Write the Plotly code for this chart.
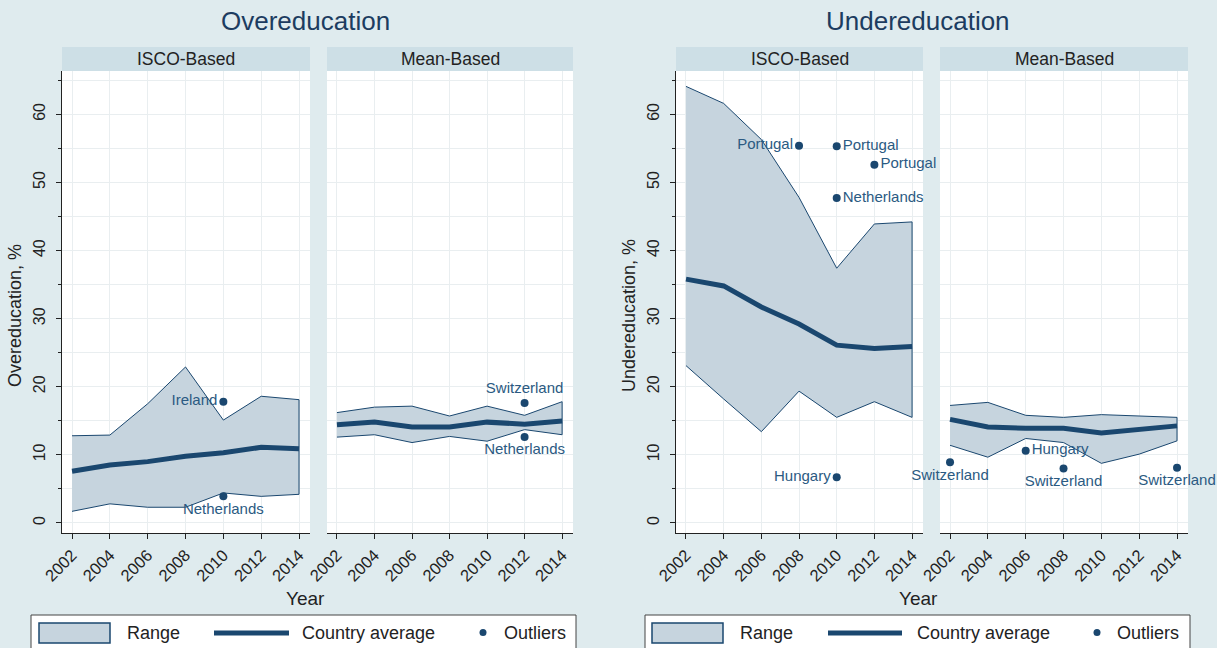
import plotly.graph_objects as go

# ---------------- data ----------------
years = [2002, 2004, 2006, 2008, 2010, 2012, 2014]

# Overeducation, ISCO-based
over_isco_upper = [12.8, 12.9, 17.5, 22.9, 15.1, 18.6, 18.1]
over_isco_lower = [1.7, 2.8, 2.3, 2.3, 4.4, 3.9, 4.2]
over_isco_avg = [7.6, 8.5, 9.0, 9.8, 10.3, 11.1, 10.9]
over_isco_out_x = [2010, 2010]
over_isco_out_y = [17.8, 3.9]
over_isco_out_lbl = ["Ireland", "Netherlands"]
over_isco_out_pos = ["middle left", "bottom center"]

# Overeducation, mean-based
over_mean_upper = [16.2, 17.0, 17.15, 15.7, 17.15, 15.8, 17.8]
over_mean_lower = [12.6, 12.95, 11.8, 12.7, 12.0, 13.7, 12.95]
over_mean_avg = [14.4, 14.8, 14.1, 14.1, 14.8, 14.5, 14.95]
over_mean_out_x = [2012, 2012]
over_mean_out_y = [17.6, 12.6]
over_mean_out_lbl = ["Switzerland", "Netherlands"]
over_mean_out_pos = ["top center", "bottom center"]

# Undereducation, ISCO-based
under_isco_upper = [64.1, 61.6, 56.3, 47.8, 37.4, 43.9, 44.2]
under_isco_lower = [23.1, 18.2, 13.4, 19.35, 15.5, 17.8, 15.5]
under_isco_avg = [35.8, 34.8, 31.7, 29.2, 26.1, 25.6, 25.9]
under_isco_out_x = [2008, 2010, 2012, 2010, 2010]
under_isco_out_y = [55.4, 55.3, 52.6, 47.7, 6.7]
under_isco_out_lbl = ["Portugal", "Portugal", "Portugal", "Netherlands", "Hungary"]
under_isco_out_pos = ["middle left", "middle right", "middle right", "middle right", "middle left"]

# Undereducation, mean-based
under_mean_upper = [17.25, 17.7, 15.8, 15.5, 15.9, 15.7, 15.5]
under_mean_lower = [11.4, 9.65, 12.4, 11.8, 8.75, 10.1, 12.05]
under_mean_avg = [15.2, 14.1, 13.9, 13.9, 13.2, 13.7, 14.25]
under_mean_out_x = [2002, 2006, 2008, 2014]
under_mean_out_y = [8.9, 10.6, 8.0, 8.1]
under_mean_out_lbl = ["Switzerland", "Hungary", "Switzerland", "Switzerland"]
under_mean_out_pos = ["bottom center", "middle right", "bottom center", "bottom center"]

year_ticks = [2002, 2004, 2006, 2008, 2010, 2012, 2014]
pct_ticks = [0, 10, 20, 30, 40, 50, 60]

# ---------------- style ----------------
W, H = 1217, 648
FONT = "Liberation Sans, Arial, sans-serif"
NAVY = "#1a476f"
FILL = "#c6d4de"
BG = "#dfebee"
STRIP = "#cddfe6"
GRID = "#e9eef0"
LABEL = "#2b5a82"


def px(x):
    return x / W


def py(y):
    return 1 - y / H


PLOT_TOP, PLOT_BOTTOM = 71, 533
STRIP_TOP = 47
panels = [
    # (x-left, x-right, header, upper, lower, avg, outliers)
    (62, 310, "ISCO-Based", over_isco_upper, over_isco_lower, over_isco_avg,
     (over_isco_out_x, over_isco_out_y, over_isco_out_lbl, over_isco_out_pos)),
    (327, 573, "Mean-Based", over_mean_upper, over_mean_lower, over_mean_avg,
     (over_mean_out_x, over_mean_out_y, over_mean_out_lbl, over_mean_out_pos)),
    (676, 923, "ISCO-Based", under_isco_upper, under_isco_lower, under_isco_avg,
     (under_isco_out_x, under_isco_out_y, under_isco_out_lbl, under_isco_out_pos)),
    (940, 1188, "Mean-Based", under_mean_upper, under_mean_lower, under_mean_avg,
     (under_mean_out_x, under_mean_out_y, under_mean_out_lbl, under_mean_out_pos)),
]

fig = go.Figure()
shapes = []
annotations = []
layout_axes = {}

for i, (xl, xr, header, upper, lower, avg, outs) in enumerate(panels, start=1):
    xa = "x" if i == 1 else f"x{i}"
    ya = "y" if i == 1 else f"y{i}"
    # range band
    fig.add_trace(go.Scatter(
        x=years + years[::-1], y=upper + lower[::-1],
        fill="toself", fillcolor=FILL, mode="lines",
        line=dict(color=NAVY, width=1), xaxis=xa, yaxis=ya,
        showlegend=False, hoverinfo="skip"))
    # country average
    fig.add_trace(go.Scatter(
        x=years, y=avg, mode="lines", line=dict(color=NAVY, width=5),
        xaxis=xa, yaxis=ya, showlegend=False))
    # outliers
    ox, oy, olbl, opos = outs
    fig.add_trace(go.Scatter(
        x=ox, y=oy, mode="markers+text", text=olbl, textposition=opos,
        marker=dict(color=NAVY, size=8),
        textfont=dict(family=FONT, size=15, color=LABEL),
        cliponaxis=False, xaxis=xa, yaxis=ya, showlegend=False))

    is_isco = header == "ISCO-Based"
    layout_axes[f"xaxis{'' if i == 1 else i}"] = dict(
        domain=[px(xl), px(xr)], anchor=ya, range=[2001.47, 2014.58],
        tickvals=year_ticks, tickangle=-45, ticks="outside", ticklen=5,
        tickcolor="#222", showline=True, linecolor="#222", linewidth=1.2,
        showgrid=True, gridcolor=GRID, zeroline=False, automargin=False,
        tickfont=dict(family=FONT, size=16.5, color="#222"), fixedrange=True)
    layout_axes[f"yaxis{'' if i == 1 else i}"] = dict(
        domain=[py(PLOT_BOTTOM), py(PLOT_TOP)], anchor=xa, range=[-1.48, 66.36],
        tickvals=pct_ticks, tickangle=-90, ticks="outside" if is_isco else "",
        ticklen=5, tickcolor="#222", showticklabels=is_isco, ticklabelstandoff=5,
        showline=is_isco, linecolor="#222", linewidth=1.2,
        showgrid=True, gridcolor=GRID, zeroline=False, automargin=False,
        minor=dict(dtick=5, tick0=0, showgrid=True, gridcolor=GRID,
                   ticks="outside" if is_isco else "", ticklen=3, tickcolor="#222"),
        tickfont=dict(family=FONT, size=16, color="#222"), fixedrange=True)

    # panel header strip
    shapes.append(dict(type="rect", xref="paper", yref="paper",
                       x0=px(xl), x1=px(xr), y0=py(PLOT_TOP), y1=py(STRIP_TOP),
                       fillcolor=STRIP, line=dict(width=0), layer="below"))
    annotations.append(dict(text=header, xref="paper", yref="paper",
                            x=px((xl + xr) / 2), y=py((PLOT_TOP + STRIP_TOP) / 2),
                            showarrow=False, xanchor="center", yanchor="middle",
                            font=dict(family=FONT, size=17.5, color="#222")))

# group titles, axis titles
for cx, title, ytitle, ytx in [(305, "Overeducation", "Overeducation, %", 15),
                                (918, "Undereducation", "Undereducation, %", 629)]:
    annotations.append(dict(text=title, xref="paper", yref="paper", x=px(cx), y=py(21),
                            showarrow=False, xanchor="center", yanchor="middle",
                            font=dict(family=FONT, size=26, color="#1c3c60")))
    annotations.append(dict(text="Year", xref="paper", yref="paper", x=px(cx), y=py(598),
                            showarrow=False, xanchor="center", yanchor="middle",
                            font=dict(family=FONT, size=19, color="#222")))
    annotations.append(dict(text=ytitle, xref="paper", yref="paper", x=px(ytx), y=py(316),
                            showarrow=False, textangle=-90, xanchor="center", yanchor="middle",
                            font=dict(family=FONT, size=18, color="#222")))

# legends (one per group)
for bx0, bx1, sw0, sw1, ln0, ln1, ct0, dot, ot0 in [
        (31, 576, 39, 110, 214, 289, 300, 483, 502),
        (645, 1190, 652, 723, 828, 902, 915, 1097, 1115)]:
    shapes.append(dict(type="rect", xref="paper", yref="paper",
                       x0=px(bx0), x1=px(bx1), y0=py(660), y1=py(615),
                       fillcolor="white", line=dict(color="#444", width=1)))
    shapes.append(dict(type="rect", xref="paper", yref="paper",
                       x0=px(sw0), x1=px(sw1), y0=py(643), y1=py(623),
                       fillcolor=FILL, line=dict(color=NAVY, width=1.5)))
    annotations.append(dict(text="Range", xref="paper", yref="paper", x=px(sw1 + 15), y=py(633),
                            showarrow=False, xanchor="left", yanchor="middle",
                            font=dict(family=FONT, size=18, color="#222")))
    shapes.append(dict(type="line", xref="paper", yref="paper",
                       x0=px(ln0), x1=px(ln1), y0=py(633), y1=py(633),
                       line=dict(color=NAVY, width=5)))
    annotations.append(dict(text="Country average", xref="paper", yref="paper", x=px(ct0),
                            y=py(633), showarrow=False, xanchor="left", yanchor="middle",
                            font=dict(family=FONT, size=18, color="#222")))
    shapes.append(dict(type="circle", xref="paper", yref="paper",
                       x0=px(dot - 3.5), x1=px(dot + 3.5), y0=py(636), y1=py(629),
                       fillcolor=NAVY, line=dict(width=0)))
    annotations.append(dict(text="Outliers", xref="paper", yref="paper", x=px(ot0), y=py(633),
                            showarrow=False, xanchor="left", yanchor="middle",
                            font=dict(family=FONT, size=18, color="#222")))

fig.update_layout(
    width=W, height=H, margin=dict(l=0, r=0, t=0, b=0),
    paper_bgcolor=BG, plot_bgcolor="white",
    showlegend=False, shapes=shapes, annotations=annotations,
    font=dict(family=FONT, color="#222"),
    **layout_axes)

fig.write_html("out.html")
